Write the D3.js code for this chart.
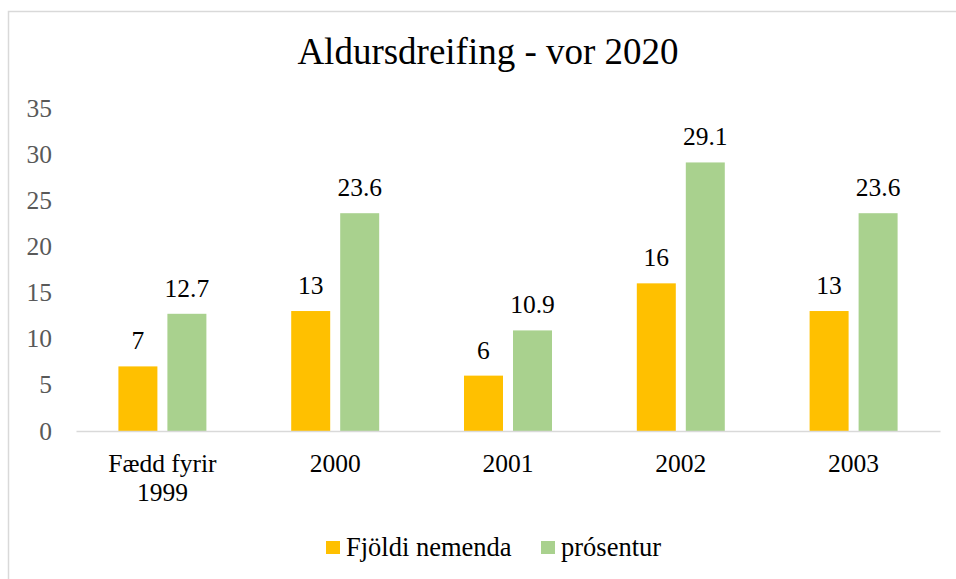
<!DOCTYPE html>
<html>
<head>
<meta charset="utf-8">
<script src="https://cdn.jsdelivr.net/npm/d3@7"></script>
<style>
  html, body { margin: 0; padding: 0; background: #fff; }
  svg { display: block; }
  svg text, svg tspan { font-family: "Liberation Serif", "Times New Roman", serif !important; }
</style>
</head>
<body>
<svg id="chart" width="956" height="579" font-family="Liberation Serif, serif"></svg>
<script>
const title = "Aldursdreifing - vor 2020";
const categories = [["Fædd fyrir", "1999"], ["2000"], ["2001"], ["2002"], ["2003"]];
const seriesNames = ["Fjöldi nemenda", "prósentur"];
const fjoldi = [7, 13, 6, 16, 13];
const prosentur = [12.7, 23.6, 10.9, 29.1, 23.6];
const yTicks = [0, 5, 10, 15, 20, 25, 30, 35];
const colors = ["#FFC000", "#A9D18E"];

const FONT = "'Liberation Serif', 'Times New Roman', serif";
const FS = "25.5px";
const seriesValues = [fjoldi, prosentur];
const catKeys = categories.map(c => c.join(" "));

const svg = d3.select("#chart");
const W = 956, H = 579;

// outer border (chart area)
svg.append("rect")
  .attr("x", 8.5).attr("y", 11.5)
  .attr("width", W + 10).attr("height", H + 10)
  .attr("fill", "#fff").attr("stroke", "#d9d9d9").attr("stroke-width", 1.5);

const plot = { left: 76, right: 940, top: 108, bottom: 431 };

const x0 = d3.scaleBand().domain(catKeys).range([plot.left, plot.right]).padding(0);
const bw = x0.bandwidth();
const x1 = d3.scaleBand().domain(seriesNames)
  .range([bw * 0.2454, bw * 0.7546]).paddingInner(0.2041).paddingOuter(0);
const y = d3.scaleLinear().domain([0, 35]).range([plot.bottom, plot.top]);

// title
svg.append("text")
  .attr("x", 488).attr("y", 64)
  .attr("text-anchor", "middle")
  .style("font-family", FONT)
  .style("font-size", "37px").attr("fill", "#000")
  .text(title);

// y axis labels
const yAxis = d3.axisLeft(y).tickValues(yTicks).tickSize(0).tickPadding(0).tickFormat(d3.format("d"));
const yg = svg.append("g").attr("transform", `translate(52,0)`).call(yAxis);
yg.attr("font-family", null).attr("font-size", null);
yg.select(".domain").remove();
yg.selectAll("text")
  .style("font-family", FONT)
  .style("font-size", FS).attr("fill", "#595959")
  .attr("dy", null).attr("y", 8);

// bars
const groups = svg.append("g").selectAll("g")
  .data(catKeys).join("g")
  .attr("transform", d => `translate(${x0(d)},0)`);

groups.selectAll("rect")
  .data((d, i) => seriesNames.map((s, j) => ({ s, v: seriesValues[j][i], j })))
  .join("rect")
  .attr("x", d => x1(d.s))
  .attr("width", x1.bandwidth())
  .attr("y", d => y(d.v))
  .attr("height", d => y(0) - y(d.v))
  .attr("fill", d => colors[d.j]);

groups.selectAll("text.val")
  .data((d, i) => seriesNames.map((s, j) => ({ s, v: seriesValues[j][i], j })))
  .join("text")
  .attr("class", "val")
  .attr("x", d => x1(d.s) + x1.bandwidth() / 2)
  .attr("y", d => y(d.v) - 17)
  .attr("text-anchor", "middle")
  .style("font-family", FONT)
  .style("font-size", FS).attr("fill", "#000")
  .text(d => d.v);

// x axis
const xAxis = d3.axisBottom(x0).tickSize(0).tickFormat("");
const xg = svg.append("g").attr("transform", `translate(0,${plot.bottom})`).call(xAxis);
xg.select(".domain").attr("stroke", "#d9d9d9").attr("stroke-width", 1.5);

// x labels (multi-line)
const xl = svg.append("g").selectAll("text")
  .data(categories).join("text")
  .attr("x", (d, i) => x0(catKeys[i]) + bw / 2)
  .attr("y", 472)
  .attr("text-anchor", "middle")
  .style("font-family", FONT)
  .style("font-size", FS).attr("fill", "#000");
xl.selectAll("tspan").data(d => d).join("tspan")
  .attr("x", function() { return d3.select(this.parentNode).attr("x"); })
  .attr("dy", (d, i) => i === 0 ? 0 : 29)
  .text(d => d);

// legend
const legendItems = [
  { name: seriesNames[0], color: colors[0], x: 326 },
  { name: seriesNames[1], color: colors[1], x: 541 }
];
const lg = svg.append("g").selectAll("g").data(legendItems).join("g")
  .attr("transform", d => `translate(${d.x},0)`);
lg.append("rect").attr("x", 0).attr("y", 541).attr("width", 14).attr("height", 13)
  .attr("fill", d => d.color);
lg.append("text").attr("x", 20).attr("y", 556)
  .style("font-family", FONT)
  .style("font-size", "26.5px").attr("fill", "#000")
  .text(d => d.name);
</script>
</body>
</html>
